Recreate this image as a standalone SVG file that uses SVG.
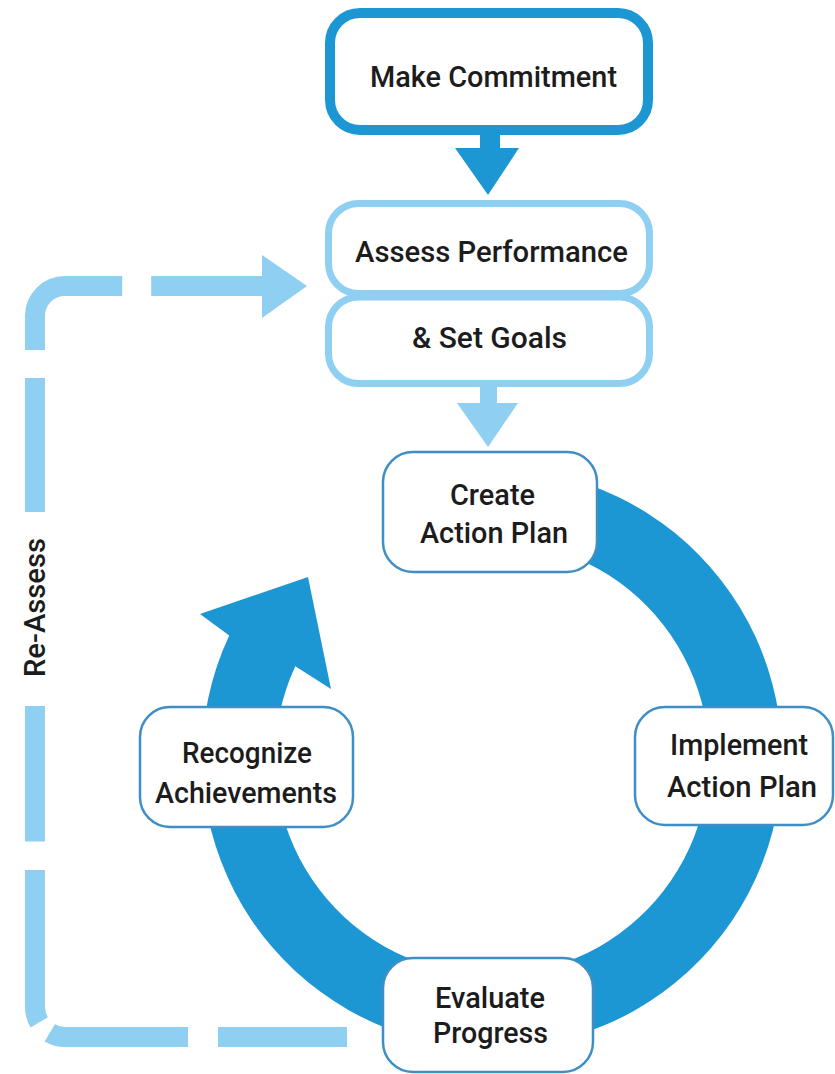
<svg xmlns="http://www.w3.org/2000/svg" width="835" height="1074" viewBox="0 0 835 1074">
<style>
  .lbl { font-family: Roboto, "Liberation Sans", Arial, sans-serif; font-weight: 500; font-size: 30px; fill: #1c1c1c; text-anchor: middle; }
  .dark { fill: #1d97d4; }
  .light { fill: #8fcff2; }
  .node { fill: #ffffff; stroke: #3f8fc6; stroke-width: 2.5; }
  .boxL { fill: #ffffff; stroke: #8fcff2; stroke-width: 7; }
</style>
<rect width="835" height="1074" fill="#ffffff"/>
<g id="connectors">
  <path id="reassess-line" d="M347,1037 H65 A30,30 0 0 1 35,1007 V316 A30,30 0 0 1 65,286 H264" fill="none" stroke="#8fcff2" stroke-width="20" stroke-dasharray="129 30 139 15 153 28.5 135.5 194 134 28 138.3 29 116 500"/>
  <polygon class="light" points="262,255 307,286 262,318"/>
  <rect class="dark" x="480" y="132" width="20" height="20"/>
  <polygon class="dark" points="455,148 519,148 488,195"/>
  <rect class="light" x="480" y="385" width="17" height="20"/>
  <polygon class="light" points="457,403 518,403 488,447"/>
  <path id="cycle" class="dark" d="M392.8,485.5 A290,290 0 1 1 229.2,635.4 L200,614 L308,577 L331,689 L295.3,666.3 A217,217 0 1 0 417.8,554.1 Z"/>
</g>
<g id="make-commitment">
  <rect x="330" y="13" width="318" height="117" rx="30" fill="#ffffff" stroke="#1d97d4" stroke-width="10"/>
  <text class="lbl" x="493.5" y="87" font-size="32" textLength="247" lengthAdjust="spacingAndGlyphs">Make Commitment</text>
</g>
<g id="assess-performance">
  <rect class="boxL" x="328.5" y="203.5" width="321" height="90" rx="30"/>
  <text class="lbl" x="491.5" y="262" font-size="31" textLength="273" lengthAdjust="spacingAndGlyphs">Assess Performance</text>
</g>
<g id="set-goals">
  <rect class="boxL" x="328.5" y="297" width="321" height="86.5" rx="30"/>
  <text class="lbl" x="489.5" y="348" font-size="31" textLength="155" lengthAdjust="spacingAndGlyphs">&amp; Set Goals</text>
</g>
<g id="create-action-plan">
  <rect class="node" x="383" y="452" width="214" height="120" rx="30"/>
  <text class="lbl" x="492.5" y="505" textLength="85" lengthAdjust="spacingAndGlyphs">Create</text>
  <text class="lbl" x="494" y="543" textLength="148" lengthAdjust="spacingAndGlyphs">Action Plan</text>
</g>
<g id="implement-action-plan">
  <rect class="node" x="635" y="707" width="198" height="118" rx="30"/>
  <text class="lbl" x="739" y="755" textLength="138" lengthAdjust="spacingAndGlyphs">Implement</text>
  <text class="lbl" x="742" y="797" textLength="150" lengthAdjust="spacingAndGlyphs">Action Plan</text>
</g>
<g id="evaluate-progress">
  <rect class="node" x="383" y="958" width="210" height="114" rx="30"/>
  <text class="lbl" x="490" y="1008" textLength="110" lengthAdjust="spacingAndGlyphs">Evaluate</text>
  <text class="lbl" x="490.5" y="1043" textLength="115" lengthAdjust="spacingAndGlyphs">Progress</text>
</g>
<g id="recognize-achievements">
  <rect class="node" x="140" y="707" width="213" height="120" rx="30"/>
  <text class="lbl" x="247" y="763" textLength="130" lengthAdjust="spacingAndGlyphs">Recognize</text>
  <text class="lbl" x="246" y="803" textLength="182" lengthAdjust="spacingAndGlyphs">Achievements</text>
</g>
<g id="re-assess-label">
  <text class="lbl" transform="translate(45,607.5) rotate(-90)" x="0" y="0" font-size="32" textLength="139" lengthAdjust="spacingAndGlyphs">Re-Assess</text>
</g>
</svg>
